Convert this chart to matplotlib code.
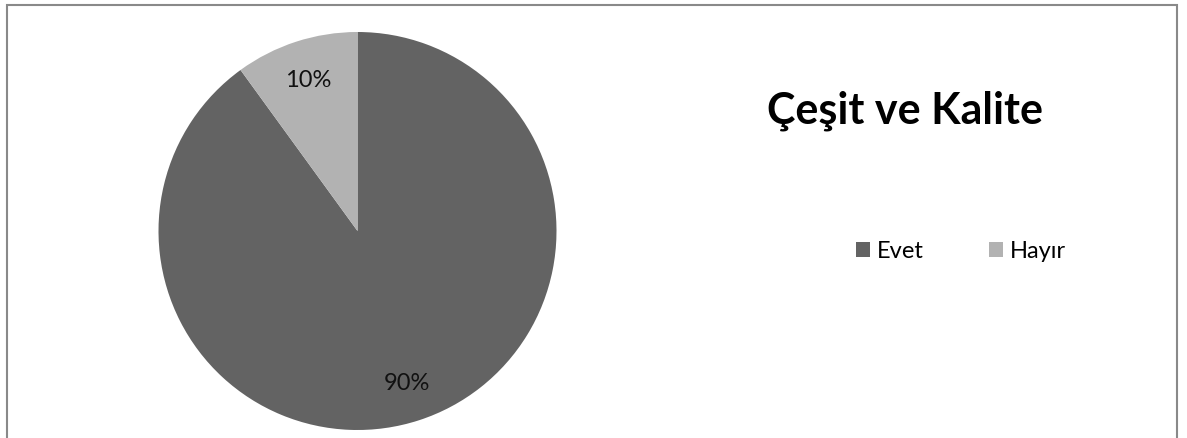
import matplotlib
matplotlib.use("Agg")
from matplotlib import pyplot as plt
from matplotlib.patches import Rectangle, Patch

# data
labels = ["Evet", "Hayır"]
values = [90, 10]
colors = ["#636363", "#b2b2b2"]
title = "Çeşit ve Kalite"

plt.rcParams['font.family'] = ['Lato', 'DejaVu Sans']

W, H = 1187, 439
fig = plt.figure(figsize=(W / 100, H / 100), dpi=100)

# pie axes: centre (357.5, 232) px, radius 199 px
cx, cy, r = 357.5, 232, 199
ax = fig.add_axes([(cx - r) / W, (H - cy - r) / H, 2 * r / W, 2 * r / H])
wedges, texts, autotexts = ax.pie(values, colors=colors, startangle=90, counterclock=False,
                                  autopct='%1.0f%%', pctdistance=0.8,
                                  textprops={'fontsize': 17, 'color': '#111111'})
ax.set_xlim(-1, 1)
ax.set_ylim(-1, 1)
ax.set_aspect('auto')
ax.axis('off')

fig.text(905 / W, 1 - 124 / H, title, ha='center', va='baseline',
         fontsize=31, fontweight='bold', color='black')

handles = [Patch(facecolor=c, edgecolor='none') for c in colors]
fig.legend(handles, labels, loc='center', bbox_to_anchor=(961 / W, 1 - 252 / H),
           ncol=2, frameon=False, fontsize=17, handlelength=0.6, handleheight=0.6,
           handletextpad=0.3, columnspacing=2.75)

# outer border (bottom edge runs off the picture)
fig.patches.append(Rectangle((7 / W, -0.1), (1177 - 7) / W, 1.1 - 6 / H,
                             transform=fig.transFigure, fill=False,
                             edgecolor='#898989', linewidth=1.5))

fig.savefig("out.png", dpi=100)
